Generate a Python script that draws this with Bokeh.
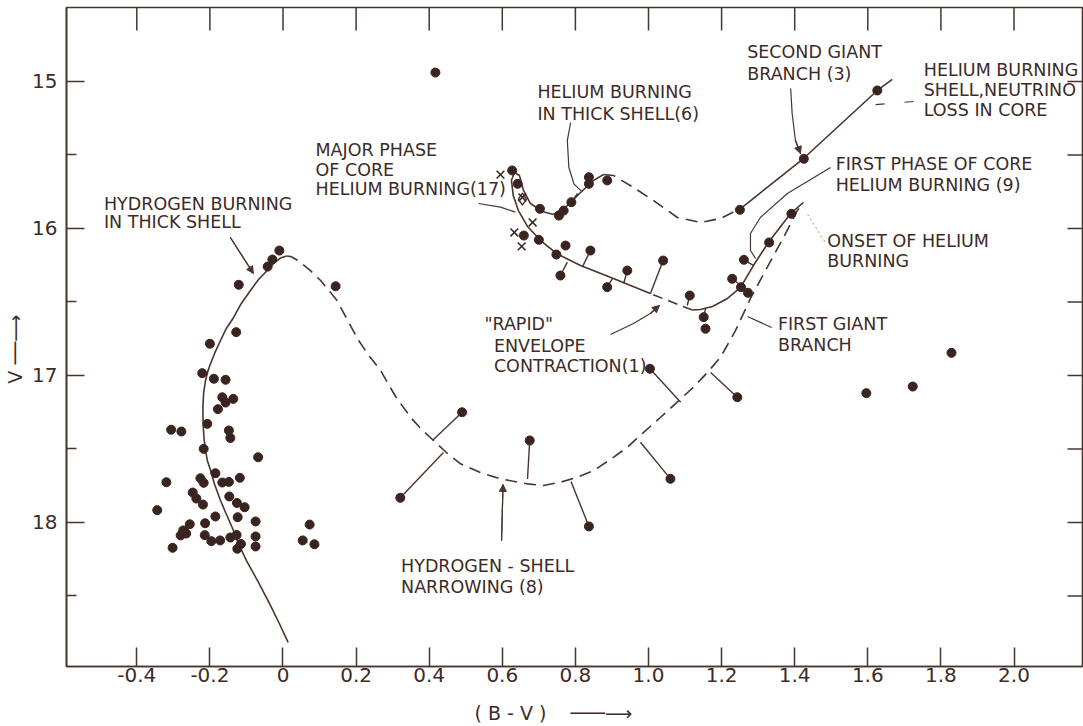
from bokeh.plotting import figure
from bokeh.models import Range1d, FixedTicker, Arrow, NormalHead
from bokeh.core.properties import value
from bokeh.embed import file_html
from bokeh.resources import INLINE

INK = "#3a2420"
TXT = "#3d2b27"
LINE = "#4a3430"
FONT = "DejaVu Sans"

# ---------------- data ----------------
# main-sequence / turnoff stars
ms_bv = [-0.010, -0.029, -0.042, 0.144, -0.121, -0.128, -0.200, -0.221, -0.189, -0.157,
         -0.166, -0.136, -0.157, -0.178, -0.207, -0.306, -0.278, -0.148, -0.144, -0.217,
         -0.068, -0.185, -0.319, -0.226, -0.217, -0.166, -0.148, -0.118, -0.247, -0.237,
         -0.219, -0.147, -0.126, -0.105, -0.344, -0.185, -0.124, -0.075, -0.255, -0.213,
         -0.273, -0.280, -0.265, -0.214, -0.196, -0.172, -0.144, -0.127, -0.075, -0.115,
         -0.125, -0.075, -0.302, 0.073, 0.054, 0.086]
ms_v = [16.150, 16.211, 16.259, 16.393, 16.383, 16.705, 16.784, 16.984, 17.022, 17.029,
        17.148, 17.159, 17.184, 17.229, 17.329, 17.369, 17.381, 17.374, 17.425, 17.499,
        17.556, 17.665, 17.726, 17.699, 17.730, 17.728, 17.724, 17.696, 17.796, 17.837,
        17.878, 17.823, 17.867, 17.896, 17.916, 17.959, 17.964, 17.993, 18.012, 18.005,
        18.054, 18.088, 18.075, 18.086, 18.127, 18.122, 18.102, 18.085, 18.095, 18.146,
        18.179, 18.163, 18.172, 18.014, 18.122, 18.148]

# isolated / field stars
field_bv = [0.417, 1.829, 1.723, 1.596]
field_v = [14.939, 16.846, 17.075, 17.120]

# evolved stars (giant branch, horizontal branch, subgiants)
ev_bv = [0.627, 0.642, 0.703, 0.755, 0.768, 0.789, 0.837, 0.837, 0.887, 0.659,
         0.700, 0.748, 0.773, 0.759, 0.841, 0.887, 0.942, 1.040, 1.113, 1.151,
         1.156, 1.229, 1.253, 1.272, 1.261, 1.330, 1.391, 1.250, 1.425, 1.626,
         0.490, 0.675, 1.060, 1.004, 1.243, 0.321, 0.837]
ev_v = [15.605, 15.696, 15.866, 15.912, 15.878, 15.821, 15.651, 15.696, 15.673, 16.048,
        16.077, 16.177, 16.116, 16.320, 16.150, 16.399, 16.286, 16.218, 16.456, 16.603,
        16.682, 16.342, 16.399, 16.437, 16.213, 16.095, 15.900, 15.873, 15.526, 15.061,
        17.250, 17.442, 17.703, 16.954, 17.148, 17.832, 18.027]

# crosses and the special (diamond) star
x_bv = [0.595, 0.655, 0.683, 0.633, 0.653]
x_v = [15.633, 15.789, 15.959, 16.027, 16.122]
dia_bv = [0.655]
dia_v = [15.800]

# stems joining stars to their position on the track
stem_bv0 = [0.490, 0.675, 1.060, 1.004, 1.243, 0.321, 0.837, 0.789, 0.759, 0.841,
            0.887, 0.942, 1.040, 1.113, 1.151, 1.261, 1.229]
stem_v0 = [17.250, 17.442, 17.703, 16.954, 17.148, 17.832, 18.027, 15.821, 16.320, 16.150,
           16.399, 16.286, 16.218, 16.456, 16.603, 16.213, 16.342]
stem_bv1 = [0.409, 0.669, 0.978, 1.088, 1.170, 0.439, 0.788, 0.806, 0.778, 0.819,
            0.901, 0.932, 1.005, 1.106, 1.156, 1.288, 1.246]
stem_v1 = [17.442, 17.704, 17.454, 17.182, 16.980, 17.524, 17.721, 15.762, 16.229, 16.263,
           16.342, 16.376, 16.444, 16.524, 16.546, 16.252, 16.374]

# theoretical track segments
trk_ms_bv = [0.014, -0.010, -0.034, -0.067, -0.100, -0.122, -0.139, -0.157, -0.171, -0.187,
             -0.198, -0.207, -0.212, -0.216, -0.218, -0.219, -0.219, -0.217, -0.212, -0.205,
             -0.198, -0.185, -0.171, -0.155, -0.135, -0.114, -0.089, -0.067, -0.043, -0.026,
             -0.007, 0.010]
trk_ms_v = [18.816, 18.687, 18.565, 18.408, 18.259, 18.143, 18.034, 17.932, 17.850, 17.741,
            17.646, 17.578, 17.510, 17.429, 17.354, 17.272, 17.204, 17.116, 17.034, 16.966,
            16.918, 16.837, 16.762, 16.680, 16.605, 16.510, 16.422, 16.347, 16.286, 16.238,
            16.201, 16.187]
trk_sg_bv = [0.010, 0.021, 0.042, 0.075, 0.103, 0.148, 0.174, 0.207, 0.237, 0.267,
             0.308, 0.349, 0.379, 0.412, 0.447, 0.486, 0.540, 0.595, 0.668, 0.713,
             0.759, 0.803, 0.850, 0.896, 0.942, 0.986, 1.033, 1.077, 1.123, 1.161,
             1.197, 1.238, 1.279, 1.320, 1.370, 1.407, 1.424]
trk_sg_v = [16.187, 16.190, 16.218, 16.286, 16.354, 16.490, 16.612, 16.762, 16.871, 16.966,
            17.143, 17.284, 17.367, 17.442, 17.524, 17.601, 17.660, 17.703, 17.737, 17.748,
            17.726, 17.694, 17.646, 17.571, 17.488, 17.388, 17.284, 17.184, 17.080, 16.980,
            16.876, 16.694, 16.476, 16.286, 16.059, 15.878, 15.830]
trk_he1_bv = [1.424, 1.389, 1.328, 1.287, 1.252, 1.216, 1.175, 1.142, 1.120]
trk_he1_v = [15.823, 15.898, 16.095, 16.252, 16.401, 16.476, 16.531, 16.551, 16.554]
trk_rapid_bv = [1.120, 1.088, 1.046, 1.005]
trk_rapid_v = [16.554, 16.524, 16.483, 16.442]
trk_core_bv = [1.005, 0.904, 0.814, 0.748, 0.705, 0.669, 0.644, 0.630, 0.625, 0.633,
               0.647, 0.658, 0.677, 0.710, 0.740]
trk_core_v = [16.442, 16.340, 16.252, 16.170, 16.082, 15.986, 15.878, 15.776, 15.673, 15.619,
              15.639, 15.741, 15.830, 15.884, 15.905]
trk_shell_bv = [0.740, 0.778, 0.814, 0.850, 0.877]
trk_shell_v = [15.905, 15.844, 15.755, 15.673, 15.633]
trk_loop_bv = [0.877, 0.904, 0.959, 1.014, 1.079, 1.142, 1.197, 1.252]
trk_loop_v = [15.633, 15.639, 15.721, 15.810, 15.925, 15.959, 15.932, 15.864]
trk_agb_bv = [1.252, 1.424, 1.626, 1.667]
trk_agb_v = [15.864, 15.524, 15.061, 14.986]

# axis ticks
x_ticks = [-0.4, -0.2, 0.0, 0.2, 0.4, 0.6, 0.8, 1.0, 1.2, 1.4, 1.6, 1.8, 2.0]
x_tick_labels = ["-0.4", "-0.2", "0", "0.2", "0.4", "0.6", "0.8", "1.0", "1.2", "1.4",
                 "1.6", "1.8", "2.0"]
v_ticks = [15, 16, 17, 18]
v_minor = [15.5, 16.5, 17.5, 18.5]
v_right = [15, 15.5, 16, 16.5, 17, 17.5, 18, 18.5]

# ---------------- figure ----------------
X0, X1 = -0.5923, 2.1874
V_BOT, V_TOP = 18.9796, 14.4966
p = figure(width=1083, height=726, x_range=Range1d(X0, X1), y_range=Range1d(V_BOT, V_TOP),
           output_backend="svg", toolbar_location=None,
           min_border_left=66, min_border_right=1, min_border_top=7, min_border_bottom=60,
           background_fill_color="white", border_fill_color="white")
p.xgrid.visible = False
p.ygrid.visible = False
p.outline_line_color = LINE
p.outline_line_width = 1.6
p.outline_line_alpha = 1.0

NB = "\u00a0"
ARROW3 = "\u2500\u2500\u2500\u27f6"
ARROW2 = "\u2500\u2500\u27f6"
xa = p.xaxis[0]
xa.ticker = FixedTicker(ticks=x_ticks)
xa.major_label_overrides = dict(zip(x_ticks, x_tick_labels))
xa.major_tick_in = 19
xa.major_tick_out = 0
xa.minor_tick_in = 0
xa.minor_tick_out = 0
xa.major_label_standoff = 1
xa.axis_label = "(\u00a0B\u00a0-\u00a0V\u00a0)" + NB * 4 + ARROW3 + NB * 7
xa.axis_label_standoff = 17

ya = p.yaxis[0]
ya.ticker = FixedTicker(ticks=v_ticks, minor_ticks=v_minor)
ya.major_tick_in = 18
ya.major_tick_out = 0
ya.minor_tick_in = 10
ya.minor_tick_out = 0
ya.major_label_standoff = 9
ya.axis_label = "V" + NB + ARROW2 + NB * 4
ya.axis_label_standoff = 3

for a in [xa, ya]:
    a.axis_line_color = LINE
    a.axis_line_width = 1.6
    a.major_tick_line_color = LINE
    a.major_tick_line_width = 1.5
    a.minor_tick_line_color = LINE
    a.minor_tick_line_width = 1.5
    a.major_label_text_font = FONT
    a.major_label_text_color = TXT
    a.major_label_text_font_size = "20px"
    a.axis_label_text_font = FONT
    a.axis_label_text_font_size = "19px"
    a.axis_label_text_font_style = "normal"
    a.axis_label_text_color = TXT

# inward tick marks along the top and right frame edges (same tick arrays)
top_len = 23 / 147.0
right_len = 15 / 365.5
p.segment(x0=x_ticks, y0=[V_TOP] * len(x_ticks), x1=x_ticks, y1=[V_TOP + top_len] * len(x_ticks),
          line_color=LINE, line_width=1.5)
p.segment(x0=[X1] * len(v_right), y0=v_right, x1=[X1 - right_len] * len(v_right), y1=v_right,
          line_color=LINE, line_width=1.5)

# tracks
lw = 1.6
p.line(trk_ms_bv, trk_ms_v, line_color=LINE, line_width=lw)
p.line(trk_sg_bv, trk_sg_v, line_color=LINE, line_width=lw, line_dash="12 7")
p.line(trk_he1_bv, trk_he1_v, line_color=LINE, line_width=lw)
p.line(trk_rapid_bv, trk_rapid_v, line_color=LINE, line_width=lw, line_dash="10 6")
p.line(trk_core_bv, trk_core_v, line_color=LINE, line_width=lw)
p.line(trk_shell_bv, trk_shell_v, line_color=LINE, line_width=lw)
p.line(trk_loop_bv, trk_loop_v, line_color=LINE, line_width=lw, line_dash="12 7")
p.line(trk_agb_bv, trk_agb_v, line_color=LINE, line_width=lw)

# stems
p.segment(x0=stem_bv0, y0=stem_v0, x1=stem_bv1, y1=stem_v1, line_color=LINE, line_width=1.4)

# stars
p.scatter(ms_bv, ms_v, marker="circle", size=9, fill_color=INK, line_color=INK)
p.scatter(field_bv, field_v, marker="circle", size=9, fill_color=INK, line_color=INK)
p.scatter(ev_bv, ev_v, marker="circle", size=9, fill_color=INK, line_color=INK)
p.scatter(x_bv, x_v, marker="x", size=11, line_color=INK, line_width=1.5)
p.scatter(dia_bv, dia_v, marker="diamond", size=12, fill_color=None, line_color=INK, line_width=1.3)

# leader lines
leaders = [
    ([-0.144, -0.081], [16.061, 16.306], True),
    ([0.535, 0.595, 0.636], [15.830, 15.855, 15.889], False),
    ([0.787, 0.778, 0.782, 0.796, 0.819], [15.279, 15.401, 15.583, 15.696, 15.753], False),
    ([1.389, 1.393, 1.402, 1.416], [15.048, 15.218, 15.401, 15.490], True),
    ([1.498, 1.380, 1.306, 1.279, 1.279, 1.293], [15.585, 15.762, 15.925, 16.034, 16.150, 16.204], False),
    ([1.337, 1.271], [16.673, 16.599], False),
    ([0.896, 0.959, 1.005, 1.030], [16.721, 16.646, 16.578, 16.524], True),
    ([0.598, 0.602], [18.122, 17.741], True),
]
for xs, ys, arrow in leaders:
    p.line(xs, ys, line_color=LINE, line_width=1.2)
    if arrow:
        p.add_layout(Arrow(end=NormalHead(size=7, fill_color=LINE, line_color=LINE),
                           x_start=xs[-2], y_start=ys[-2], x_end=xs[-1], y_end=ys[-1],
                           line_color=LINE, line_width=1.2))
p.line([1.725, 1.596], [15.136, 15.163], line_color=LINE, line_width=1.2, line_dash="9 20")
p.line([1.482, 1.432], [16.088, 15.891], line_color="#a0908c", line_width=1, line_dash="2 3")

# annotation texts: (left B-V, V of each line, lines)
notes = [
    (-0.490, [15.830, 15.956], ["HYDROGEN BURNING", "IN THICK SHELL"]),
    (0.089, [15.469, 15.599, 15.731], ["MAJOR PHASE", "OF CORE", "HELIUM BURNING(17)"]),
    (0.696, [15.071, 15.218], ["HELIUM BURNING", "IN THICK SHELL(6)"]),
    (1.270, [14.799, 14.946], ["SECOND GIANT", "BRANCH (3)"]),
    (1.753, [14.924, 15.060, 15.196], ["HELIUM BURNING", "SHELL,NEUTRINO", "LOSS IN CORE"]),
    (1.512, [15.559, 15.706], ["FIRST PHASE OF CORE", "HELIUM BURNING (9)"]),
    (1.489, [16.082, 16.218], ["ONSET OF HELIUM", "BURNING"]),
    (1.354, [16.652, 16.795], ["FIRST GIANT", "BRANCH"]),
    (0.551, [16.653], ['"RAPID"']),
    (0.577, [16.796, 16.932], ["ENVELOPE", "CONTRACTION(1)"]),
    (0.323, [18.298, 18.439], ["HYDROGEN - SHELL", "NARROWING (8)"]),
]
tx, ty, tt = [], [], []
for x0, vs, lines in notes:
    for v, s in zip(vs, lines):
        tx.append(x0)
        ty.append(v)
        tt.append(s)
p.text(tx, ty, text=tt, text_font=value(FONT), text_font_size=value("17.5px"),
       text_color=TXT, text_baseline="middle", text_align="left")

open("out.html", "w").write(file_html(p, INLINE))
